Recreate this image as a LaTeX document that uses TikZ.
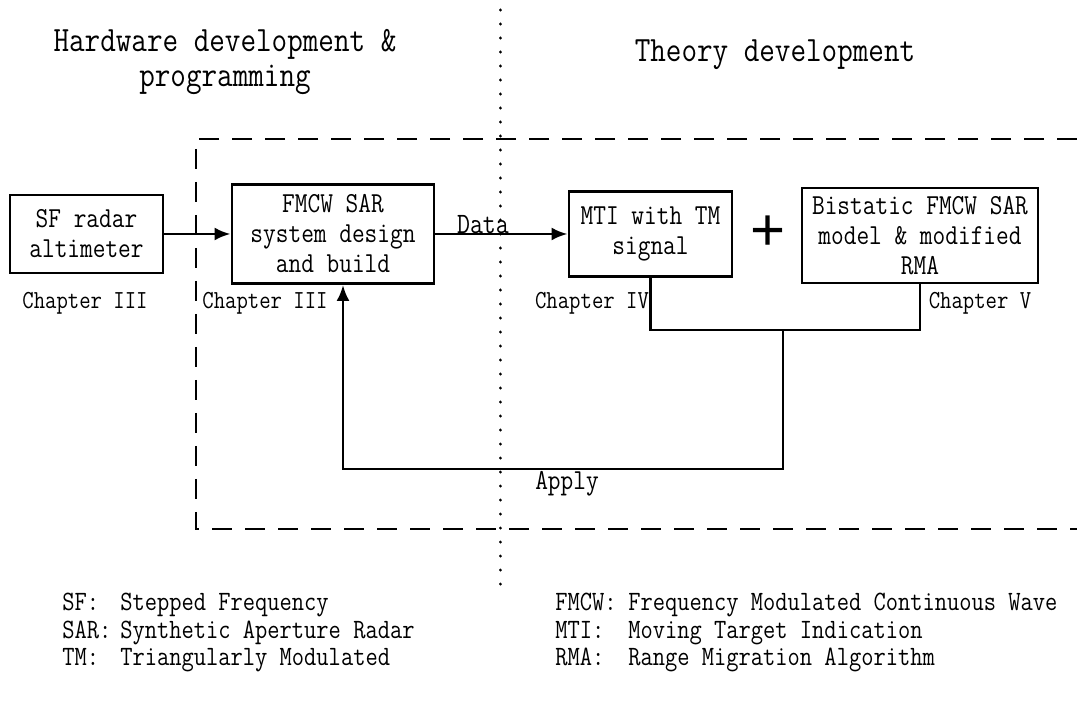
\documentclass[tikz,border=0pt]{standalone}
\usepackage{fontspec}
\setmainfont{Latin Modern Mono}[FakeStretch=0.85]
\newfontfamily\plusfont{Liberation Sans}
\usetikzlibrary{arrows.meta}
\tikzset{
  blockbox/.style={draw,line width=1.4pt,inner sep=0pt,align=center,
    font=\fontsize{14.5}{15}\selectfont},
  chaptext/.style={font=\fontsize{13}{14}\selectfont},
  legtext/.style={anchor=base west,inner sep=0pt,font=\fontsize{14}{14}\selectfont},
  conn/.style={line width=1.4pt},
  tip/.style={-{Latex[length=8pt,width=6.5pt]}}
}
\begin{document}
\begin{tikzpicture}[x=0.5pt,y=-0.5pt]
  \useasboundingbox (0,0) rectangle (1077,710);
  \draw[line width=1.5pt,line cap=round,dash pattern=on 0.1pt off 6.9pt]
    (500,10) -- (500,592);
  \draw[line width=1.4pt,dash pattern=on 10pt off 6.5pt] (1077,139) --
    (196,139) -- (196,529) -- (1077,529);
  \node[font=\fontsize{17.8}{17.5}\selectfont,align=center,inner sep=0pt]
    (hw) at (225,62) {Hardware development \&\\programming};
  \node[font=\fontsize{17.8}{17.5}\selectfont] (th) at (775,55)
    {Theory development};
  \node[blockbox,minimum width=76.5pt,minimum height=39pt] (sf)
    at (86.5,234) {SF radar\\altimeter};
  \node[blockbox,minimum width=101pt,minimum height=49.5pt] (fmcw)
    at (333,234) {FMCW SAR\\system design\\and build};
  \node[blockbox,minimum width=81.5pt,minimum height=42.5pt] (mti)
    at (650.5,234) {MTI with TM\\signal};
  \node[blockbox,minimum width=118pt,minimum height=47.5pt] (bis)
    at (920,235.5) {Bistatic FMCW SAR\\model \& modified\\RMA};
  \node[font=\plusfont\fontsize{30}{30}\selectfont] (plus) at (768,233) {+};
  \node[chaptext] (ch3a) at (85,303) {Chapter III};
  \node[chaptext] (ch3b) at (265,303) {Chapter III};
  \node[chaptext] (ch4) at (592,303) {Chapter IV};
  \node[chaptext] (ch5) at (980,303) {Chapter V};
  \draw[conn,tip] (sf) -- (fmcw);
  \draw[conn,tip] (fmcw) -- node[pos=0.36,anchor=base,inner sep=1pt,
    font=\fontsize{14.8}{15}\selectfont] (data) {Data} (mti);
  \coordinate (join) at (783,330);
  \coordinate (back) at (343,469);
  \draw[conn] (mti.south) |- (join) -| (bis.south);
  \draw[conn,tip] (join) |- (back) -- (back |- fmcw.south);
  \node[font=\fontsize{14.5}{15}\selectfont] (apply) at (567,484) {Apply};
  \node[legtext] (sfab) at (62,611) {SF:};
  \node[legtext] (sfex) at (120,611) {Stepped Frequency};
  \node[legtext] (sarab) at (62,638.5) {SAR:};
  \node[legtext] (sarex) at (120,638.5) {Synthetic Aperture Radar};
  \node[legtext] (tmab) at (62,666) {TM:};
  \node[legtext] (tmex) at (120,666) {Triangularly Modulated};
  \node[legtext] (fmab) at (555,611) {FMCW:};
  \node[legtext] (fmex) at (628,611) {Frequency Modulated Continuous Wave};
  \node[legtext] (mtab) at (555,638.5) {MTI:};
  \node[legtext] (mtex) at (628,638.5) {Moving Target Indication};
  \node[legtext] (rmab) at (555,666) {RMA:};
  \node[legtext] (rmex) at (628,666) {Range Migration Algorithm};
\end{tikzpicture}
\end{document}
